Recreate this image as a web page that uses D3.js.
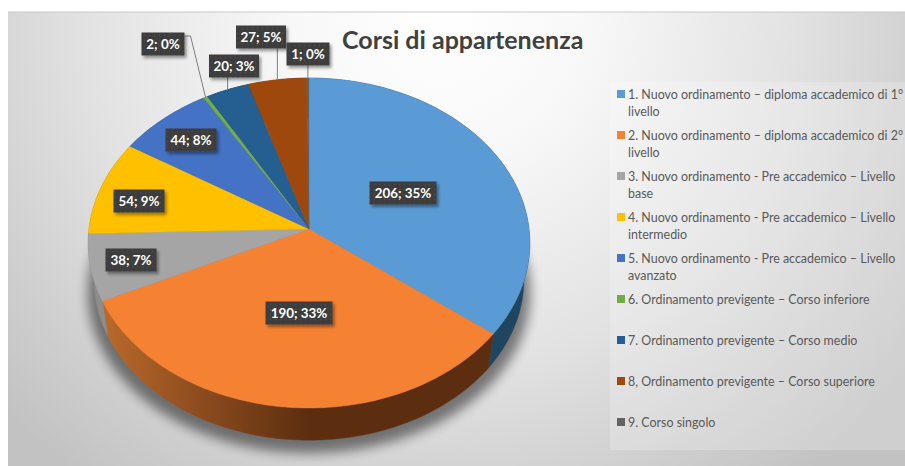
<!DOCTYPE html>
<html><head><meta charset="utf-8">
<script src="https://cdn.jsdelivr.net/npm/d3@7"></script>
<style>html,body{margin:0;padding:0;background:#fff;overflow:hidden}svg{display:block}</style>
</head><body><svg id="c" width="905" height="466"></svg>
<script>
const title = "Corsi di appartenenza";
const categories = [
  ["1. Nuovo ordinamento – diploma accademico di 1°","livello"],
  ["2. Nuovo ordinamento – diploma accademico di 2°","livello"],
  ["3. Nuovo ordinamento - Pre accademico – Livello","base"],
  ["4. Nuovo ordinamento - Pre accademico – Livello","intermedio"],
  ["5. Nuovo ordinamento - Pre accademico – Livello","avanzato"],
  ["6. Ordinamento previgente – Corso inferiore"],
  ["7. Ordinamento previgente – Corso medio"],
  ["8, Ordinamento previgente – Corso superiore"],
  ["9. Corso singolo"]
];
const values = [206,190,38,54,44,2,20,27,1];
const percents = [35,33,7,9,8,0,3,5,0];
const colors = ["#5b9bd5","#f58233","#a5a5a5","#ffc000","#4472c4","#70ad47","#255e91","#9e480e","#636363"];
// label box centres (layout only)
const labelCenters = [[403,193],[299,313],[131,260],[139,201],[191,140],[163,44],[234,66],[261,37],[308,54]];
const labelWidths  = [67,67,51,51,51,43,50,50,43];

const svg = d3.select("#c");
const defs = svg.append("defs");
const W=905,H=466;

// background
const bg = defs.append("radialGradient").attr("id","bg").attr("gradientUnits","userSpaceOnUse")
  .attr("cx",440).attr("cy",12).attr("r",590);
[[0,"#ffffff"],[.25,"#f8f8f8"],[.6,"#e2e2e2"],[1,"#c2c2c2"]].forEach(s=>bg.append("stop").attr("offset",s[0]).attr("stop-color",s[1]));
svg.append("rect").attr("x",8).attr("y",12).attr("width",W-8).attr("height",H-12).attr("fill","url(#bg)");
svg.append("line").attr("x1",8).attr("x2",W).attr("y1",12).attr("y2",12).attr("stroke","#c9c9c9").attr("stroke-width",1);
svg.append("rect").attr("x",610).attr("y",82).attr("width",295).attr("height",368).attr("fill","#fff").attr("opacity",.22);

// filters and pattern
const blurF = defs.append("filter").attr("id","blur").attr("x","-20%").attr("y","-20%").attr("width","140%").attr("height","140%");
blurF.append("feGaussianBlur").attr("stdDeviation",6);
const ds = defs.append("filter").attr("id","ds").attr("x","-20%").attr("y","-30%").attr("width","150%").attr("height","170%");
ds.append("feDropShadow").attr("dx",2).attr("dy",2.5).attr("stdDeviation",1.6).attr("flood-color","#000").attr("flood-opacity",.4);
const pat = defs.append("pattern").attr("id","dots").attr("width",5).attr("height",5).attr("patternUnits","userSpaceOnUse");
pat.append("rect").attr("width",5).attr("height",5).attr("fill","#3c3c3c");
pat.append("circle").attr("cx",1.5).attr("cy",1.5).attr("r",.9).attr("fill","#4b4b4b");

// pie in perspective
const pie = d3.pie().value(d=>d).sort(null);
const arcs = pie(values);
const R=220, RY=163.8, K=-0.085;
const CX=309, CY=229;
const xR = d3.scaleLinear().domain([-1,1]).range([CX-R,CX+R]);
const yR = d3.scaleLinear().domain([-1,1]).range([CY-RY,CY+RY]);
const DEPTH=37, SH=0.973;
function project(a,r=1,bottom=false){
  const u=Math.sin(a)*r, v=-Math.cos(a)*r, d=1+K*v;
  let x=xR(u/d), y=yR(v/d);
  if(bottom){ x=CX+(x-CX)*SH; y=CY+DEPTH+(y-CY)*SH; }
  return [x,y];
}
const lineGen=d3.line();
function samples(a0,a1){ const n=Math.max(2,Math.ceil((a1-a0)/0.02)); return d3.range(n+1).map(i=>a0+(a1-a0)*i/n); }

// shadow
const ring = samples(0,2*Math.PI).map(a=>{const p=project(a,1,true);return [CX+(p[0]-CX)*1.03,p[1]+13];});
svg.append("path").attr("d",lineGen(ring)+"Z").attr("fill","#000").attr("opacity",.48).attr("filter","url(#blur)");

// wall gradients
const gw = defs.append("linearGradient").attr("id","wOr").attr("gradientUnits","userSpaceOnUse")
  .attr("x1",xR(-0.93)).attr("x2",xR(0)).attr("y1",0).attr("y2",0);
[[0,"#b9692b"],[.5,"#8a4a1e"],[1,"#5c2e0f"]].forEach(s=>gw.append("stop").attr("offset",s[0]).attr("stop-color",s[1]));
const wallFill = ["#20455f","url(#wOr)","#8d8d8d","#a88100","#2d4c85","#4a7530","#193f61","#693009","#424242"];

// walls
const walls = svg.append("g");
arcs.forEach((d,i)=>{
  const s=samples(d.startAngle,d.endAngle);
  const upper=s.map(a=>project(a)), lower=s.map(a=>project(a,1,true)).reverse();
  walls.append("path").attr("d",lineGen(upper.concat(lower))+"Z").attr("fill",wallFill[i]).attr("stroke",wallFill[i]).attr("stroke-width",.4);
});

// top face
const face = svg.append("g");
arcs.forEach((d,i)=>{
  const pts=[project(0,0)].concat(samples(d.startAngle,d.endAngle).map(a=>project(a)));
  face.append("path").attr("d",lineGen(pts)+"Z").attr("fill",colors[i]).attr("stroke",colors[i]).attr("stroke-width",.4);
});

// leaders
const lg = svg.append("g").attr("fill","none").attr("stroke","#7f7f7f").attr("stroke-width",1);
[5,6,7,8].forEach(i=>{
  const d=arcs[i], m=(d.startAngle+d.endAngle)/2, p=project(m);
  const c=labelCenters[i], w=labelWidths[i];
  if(i===5){
    lg.append("path").attr("d",lineGen([[c[0]+w/2,c[1]-8],[c[0]+w/2+6,c[1]-8],p]));
  } else {
    lg.append("path").attr("d",lineGen([[p[0],c[1]+11],[p[0],p[1]]]));
  }
});

// labels
const lab = svg.append("g").selectAll("g").data(arcs).join("g")
  .attr("transform",(d,i)=>`translate(${labelCenters[i][0]},${labelCenters[i][1]})`);
lab.append("rect").attr("x",(d,i)=>-labelWidths[i]/2).attr("y",-11.5).attr("width",(d,i)=>labelWidths[i]).attr("height",23)
  .attr("fill","url(#dots)").attr("filter","url(#ds)");
lab.append("text").attr("text-anchor","middle").attr("y",4.8).attr("fill","#fff")
  .attr("font-family","Lato").attr("font-weight",700).attr("font-size",13.4)
  .text((d,i)=>`${values[i]}; ${percents[i]}%`);

// title
svg.append("text").attr("x",342).attr("y",49).attr("font-family","Lato").attr("font-weight",700).attr("font-size",25)
  .attr("fill","#404040").text(title);

// legend
const rowY = d3.scalePoint().domain(d3.range(9)).range([94,422]);
const leg = svg.append("g").selectAll("g").data(categories).join("g")
  .attr("transform",(d,i)=>`translate(0,${rowY(i)})`);
leg.append("rect").attr("x",617).attr("y",-4).attr("width",8).attr("height",8).attr("fill",(d,i)=>colors[i]);
leg.each(function(lines){
  d3.select(this).selectAll("text").data(lines).join("text")
    .attr("x",628).attr("y",(t,j)=>j*17+4.5)
    .attr("font-family","Lato").attr("font-size",12.45).attr("fill","#595959").text(t=>t);
});
</script></body></html>
